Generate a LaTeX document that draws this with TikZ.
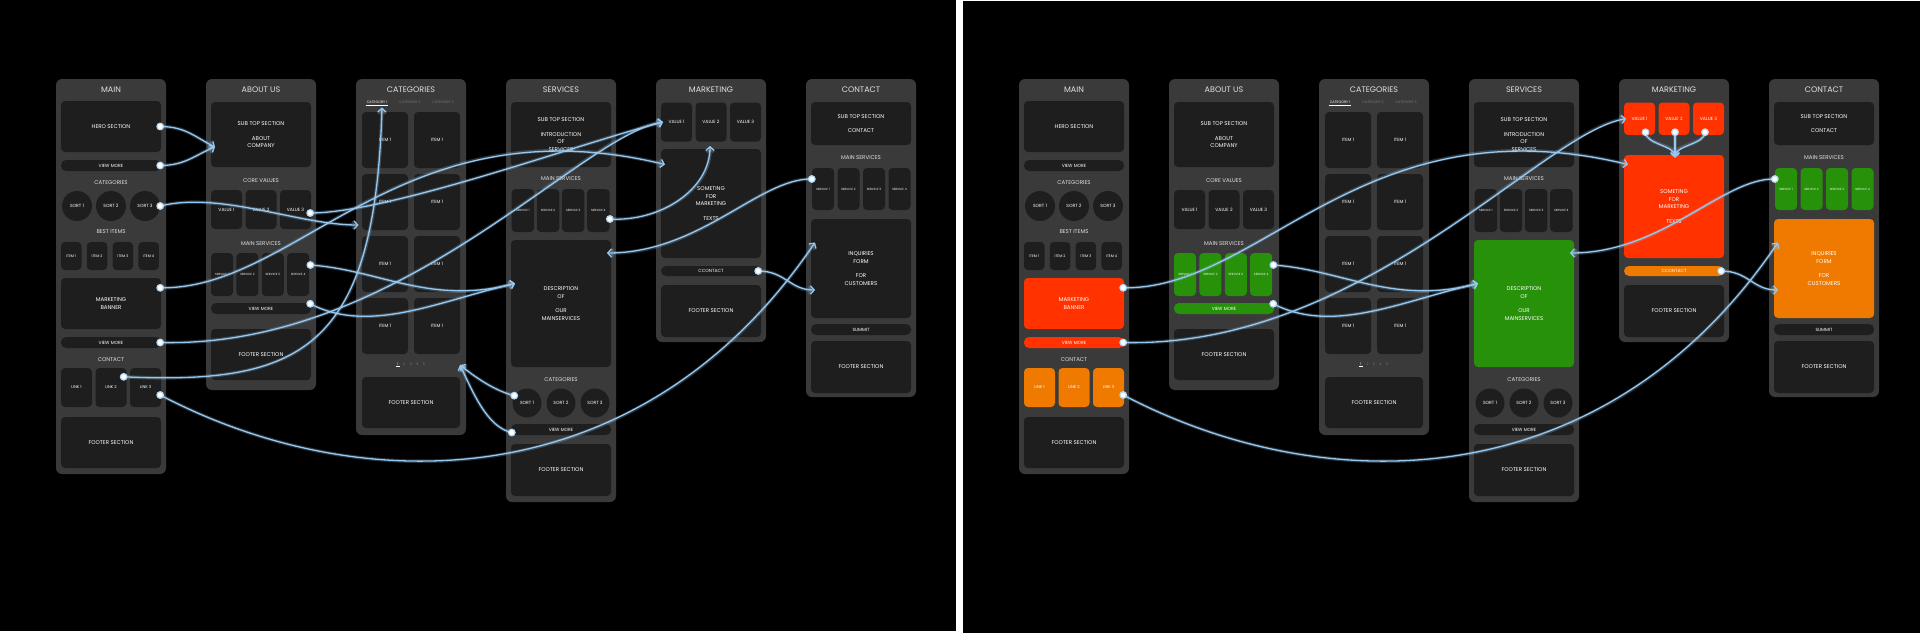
\documentclass[tikz,border=0pt]{standalone}
\usepackage{fontspec}
\setmainfont{Poppins}
\usetikzlibrary{arrows.meta}
\definecolor{colgray}{RGB}{58,58,58}
\definecolor{boxgray}{RGB}{30,30,30}
\definecolor{txtgray}{RGB}{225,225,225}
\definecolor{dimgray}{RGB}{120,120,120}
\definecolor{myred}{RGB}{255,50,0}
\definecolor{myorange}{RGB}{240,122,0}
\definecolor{mygreen}{RGB}{40,145,10}
\definecolor{wireblue}{RGB}{150,200,240}
\tikzset{
  colbox/.style={fill=colgray, rounded corners=6pt, inner sep=0pt},
  blk/.style={fill=boxgray, rounded corners=4pt, inner sep=0pt, text=white, align=center, fs=5.5},
  pill/.style={blk, rounded corners=5pt, fs=4.5},
  sz/.style 2 args={minimum width=#1pt, minimum height=#2pt},
  fs/.style={font=\fontsize{#1}{7.3}\selectfont},
  ttl/.style={text=txtgray, fs=8},
  sub/.style={text=txtgray, fs=5.5},
  sortc/.style={circle, fill=boxgray, minimum size=30pt, inner sep=0pt, text=white, fs=4.5},
  wire/.style={wireblue, line width=1.3pt, -{Straight Barb[length=3.5pt,width=8pt]},
    preaction={draw, wireblue, opacity=0.25, line width=3.5pt}},
  wdot/.style={fill=white, draw=wireblue!70, line width=1.2pt}
}
\begin{document}
\begin{tikzpicture}[x=1pt,y=-1pt]
\fill[white] (0,0) rectangle (1920,633);
\fill[black] (0,0) rectangle (956,631);
\fill[black] (963,1) rectangle (1920,633);

% the same site map twice, the second one coloured
\foreach \p/\dx/\cred/\corg/\cgrn/\vbot/\ttop in {l/0/boxgray/boxgray/boxgray/141.7/149,r/963/myred/myorange/mygreen/135/155}{
\begin{scope}[shift={(\dx,0)}]
% page columns
\foreach \i/\ctitle/\yb in {0/MAIN/474,1/ABOUT US/390,2/CATEGORIES/435,3/SERVICES/502,4/MARKETING/342,5/CONTACT/397}{
  \node[colbox, minimum width=110pt, minimum height={(\yb-79)*1pt}] (\p-col\i) at ({111+150*\i},{(79+\yb)/2}) {};
  \node[ttl] (\p-ttl\i) at ({111+150*\i},89.5) {\ctitle};
}

% main
\node[blk, sz={100}{51}] (\p-hero) at (111,126.5) {HERO SECTION};
\node[pill, sz={100}{11}] (\p-mvm1) at (111,165.5) {VIEW MORE};
\node[sub] (\p-mcat) at (111,183) {CATEGORIES};
\foreach \k/\xx in {1/77,2/111,3/145}
  \node[sortc] (\p-msort\k) at (\xx,206) {SORT \k};
\node[sub] (\p-mbest) at (111,232) {BEST ITEMS};
\foreach \k in {1,...,4}
  \node[blk, sz={20.5}{28}, fs=3.6] (\p-item\k) at ({71.25+25.8*(\k-1)},256) {ITEM \k};
\node[blk, sz={100}{51}, fill=\cred] (\p-banner) at (111,303.5) {MARKETING\\BANNER};
\node[pill, sz={100}{11}, fill=\cred] (\p-mvm2) at (111,342.5) {VIEW MORE};
\node[sub] (\p-mcon) at (111,359.5) {CONTACT};
\foreach \k in {1,2,3}
  \node[blk, sz={31}{39}, fill=\corg, fs=4] (\p-link\k) at ({76.5+34.5*(\k-1)},387.5) {LINK \k};
\node[blk, sz={100}{51}] (\p-mfoot) at (111,442.5) {FOOTER SECTION};

% about us
\node[blk, sz={100}{65}] (\p-abtop) at (261,134.5) {SUB TOP SECTION\\[7.3pt]ABOUT\\COMPANY};
\node[sub] (\p-acore) at (261,181) {CORE VALUES};
\foreach \k in {1,2,3}
  \node[blk, sz={31}{39}, fs=4.5] (\p-aval\k) at ({226.5+34.5*(\k-1)},209.5) {VALUE \k};
\node[sub] (\p-amain) at (261,243.5) {MAIN SERVICES};
\foreach \k in {1,...,4}
  \node[blk, sz={22}{43}, fill=\cgrn, fs=3] (\p-asvc\k) at ({222+25.4*(\k-1)},274.5) {SERVICE \k};
\node[pill, sz={100}{11}, fill=\cgrn] (\p-avm) at (261,308.5) {VIEW MORE};
\node[blk, sz={100}{51}] (\p-afoot) at (261,354.5) {FOOTER SECTION};

% categories
\foreach \k/\xx/\tc in {1/377/white,2/410/dimgray,3/443/dimgray}
  \node[text=\tc, fs=3.5, inner sep=1pt] (\p-tab\k) at (\xx,102.5) {CATEGORY \k};
\draw[white, line width=0.5pt] (\p-tab1.south west) -- (\p-tab1.south east);
\foreach \r/\yy in {1/140,2/202,3/264,4/326}
  \foreach \c/\xx in {1/385,2/437}
    \node[blk, sz={46}{56}, fs=4.5] (\p-citem\r\c) at (\xx,\yy) {ITEM 1};
\foreach \k/\xx/\tc in {1/398/white,2/404.5/dimgray,3/411/dimgray,4/417.5/dimgray,5/424/dimgray}
  \node[text=\tc, fs=3.5, inner sep=1pt] (\p-pg\k) at (\xx,364) {\k};
\draw[white, line width=0.5pt] (\p-pg1.south west) -- (\p-pg1.south east);
\node[blk, sz={98}{51}] (\p-cfoot) at (411,402.5) {FOOTER SECTION};

% services
\node[blk, sz={100}{65}] (\p-stop) at (561,134.5) {SUB TOP SECTION\\[7.3pt]INTRODUCTION\\OF\\SERVICES};
\node[sub] (\p-smain) at (561,179) {MAIN SERVICES};
\foreach \k in {1,...,4}
  \node[blk, sz={22.5}{43}, fs=3] (\p-ssvc\k) at ({522.8+25.2*(\k-1)},210.5) {SERVICE \k};
\node[blk, sz={100}{127}, fill=\cgrn] (\p-sdesc) at (561,303.5) {DESCRIPTION\\OF\\[7.3pt]OUR\\MAINSERVICES};
\node[sub] (\p-scat) at (561,380) {CATEGORIES};
\foreach \k/\xx in {1/527,2/561,3/595}
  \node[sortc, minimum size=29pt] (\p-ssort\k) at (\xx,403) {SORT \k};
\node[pill, sz={100}{11}] (\p-svm) at (561,429.5) {VIEW MORE};
\node[blk, sz={100}{52}] (\p-sfoot) at (561,470) {FOOTER SECTION};

% marketing
\foreach \k in {1,2,3}
  \node[blk, minimum width=31pt, minimum height={(\vbot-102.5)*1pt}, fill=\cred, fs=4.5]
    (\p-mval\k) at ({676.5+34.5*(\k-1)},{(102.5+\vbot)/2}) {VALUE \k};
\node[blk, minimum width=100pt, minimum height={(258-\ttop)*1pt}, fill=\cred]
  (\p-mtext) at (711,{(258+\ttop)/2}) {SOMETING\\FOR\\MARKETING\\[7.3pt]TEXTS};
\node[pill, sz={100}{10}, fill=\corg] (\p-mcc) at (711,271) {CCONTACT};
\node[blk, sz={100}{52}] (\p-mkfoot) at (711,311) {FOOTER SECTION};

% contact
\node[blk, sz={100}{43}] (\p-ktop) at (861,123.5) {SUB TOP SECTION\\[7.3pt]CONTACT};
\node[sub] (\p-kmain) at (861,158) {MAIN SERVICES};
\foreach \k in {1,...,4}
  \node[blk, sz={22}{42}, fill=\cgrn, fs=3] (\p-ksvc\k) at ({823+25.5*(\k-1)},189) {SERVICE \k};
\node[blk, sz={100}{99}, fill=\corg] (\p-kform) at (861,268.5) {INQUIRIES\\FORM\\[7.3pt]FOR\\CUSTOMERS};
\node[pill, sz={100}{11}] (\p-ksum) at (861,329.5) {SUMMIT};
\node[blk, sz={100}{52}] (\p-kfoot) at (861,367) {FOOTER SECTION};

% link start points
\coordinate (\p-dhero) at ([xshift=-1pt]\p-hero.east);
\coordinate (\p-dvm1) at ([xshift=-1pt]\p-mvm1.east);
\coordinate (\p-dsort) at (\p-msort3.east);
\coordinate (\p-dbanner) at ([shift={(-1,10)}]\p-banner.north east);
\coordinate (\p-dvm2) at ([xshift=-1pt]\p-mvm2.east);
\coordinate (\p-dlink2) at ([shift={(-3,9)}]\p-link2.north east);
\coordinate (\p-dlink3) at ([shift={(-1,7.5)}]\p-link3.east);
\coordinate (\p-dval3) at ([shift={(-1,3.5)}]\p-aval3.east);
\coordinate (\p-dasvc) at ([shift={(1,-9.5)}]\p-asvc4.east);
\coordinate (\p-davm) at ([shift={(-1,1)}]\p-avm.north east);
\coordinate (\p-dssvc) at ([shift={(0,8.5)}]\p-ssvc4.east);
\coordinate (\p-dssort) at (\p-ssort1.150);
\coordinate (\p-dsvm) at ([shift={(1,3)}]\p-svm.west);
\coordinate (\p-dcon) at ([xshift=-3pt]\p-mcc.east);
\coordinate (\p-dksvc) at ([shift={(0,-10)}]\p-ksvc1.west);
\coordinate (\p-dmv1) at ([shift={(6,-3)}]\p-mval1.south);
\coordinate (\p-dmv2) at ([shift={(1,-3)}]\p-mval2.south);
\coordinate (\p-dmv3) at ([shift={(-3.5,-3)}]\p-mval3.south);

% link end points
\coordinate (\p-aabout) at (215,147);
\coordinate (\p-atab) at (382,107.5);
\coordinate (\p-acat) at (358.5,225);
\coordinate (\p-adescl) at (515,283.5);
\coordinate (\p-adescr) at (607,253);
\coordinate (\p-apage) at (460,365);
\coordinate (\p-amval) at (663,{(102.5+\vbot)/2});
\coordinate (\p-amtext) at (665,164.5);
\coordinate (\p-amv2) at (710,146);
\coordinate (\p-aform1) at (815,242.5);
\coordinate (\p-aform2) at (815,290);
\coordinate (\p-amtop) at (712,157.5);
\end{scope}
}

% links shown in both maps
\foreach \p in {l,r}{
  \draw[wire] (\p-dbanner) .. controls +(139,2) and +(-265,-64) .. (\p-amtext);
  \draw[wire] (\p-dvm2) .. controls +(240,6) and +(-83,13) .. (\p-amval);
  \draw[wire] (\p-dlink3) .. controls +(200,105) and +(-175,258) .. (\p-aform1);
  \draw[wire] (\p-dasvc) .. controls +(70,5) and +(-85,22) .. (\p-adescl);
  \draw[wire] (\p-davm) .. controls +(60,31) and +(-75,17) .. (\p-adescl);
  \draw[wire] (\p-dcon) .. controls +(27,0) and +(-25,0) .. (\p-aform2);
  \draw[wire] (\p-dksvc) .. controls +(-52,-1) and +(93,0) .. (\p-adescr);
}
% links only in the plain map
\draw[wire] (l-dhero) .. controls +(25,0) and +(-20,-10) .. (l-aabout);
\draw[wire] (l-dvm1) .. controls +(25,0) and +(-20,8) .. (l-aabout);
\draw[wire] (l-dsort) .. controls +(60,-15) and +(-60,0) .. (l-acat);
\draw[wire] (l-dval3) .. controls +(80,0) and +(-80,20) .. (l-amval);
\draw[wire] (l-dlink2) .. controls +(177,8) and +(-7,243) .. (l-atab);
\draw[wire] (l-dssvc) .. controls +(50,3) and +(0,44) .. (l-amv2);
\draw[wire] (l-dssort) .. controls +(-20,-5) and +(15,12) .. (l-apage);
\draw[wire] (l-dsvm) .. controls +(-25,-5) and +(12,25) .. (l-apage);
% marketing values in the coloured map
\foreach \k in {1,2,3}
  \draw[wire] (r-dmv\k) .. controls +(0,12) and +(0,-12) .. (r-amtop);

% start dots
\foreach \d in {dhero,dvm1,dsort,dbanner,dvm2,dlink2,dlink3,dval3,dasvc,davm,dssvc,dssort,dsvm,dcon,dksvc}
  \filldraw[wdot] (l-\d) circle (3.3pt);
\foreach \d in {dbanner,dvm2,dlink3,dasvc,davm,dcon,dksvc,dmv1,dmv2,dmv3}
  \filldraw[wdot] (r-\d) circle (3.3pt);
\end{tikzpicture}
\end{document}
